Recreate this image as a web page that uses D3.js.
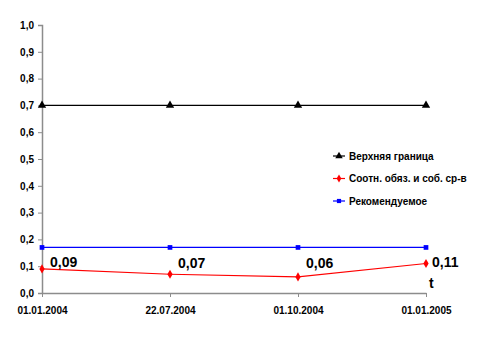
<!DOCTYPE html>
<html>
<head>
<meta charset="utf-8">
<script src="https://cdn.jsdelivr.net/npm/d3@7"></script>
<style>
  html, body { margin: 0; padding: 0; background: #fff; }
  svg text { font-family: Arial, "Liberation Sans", sans-serif; font-weight: bold; }
</style>
</head>
<body>
<svg id="chart" width="500" height="338"></svg>
<script>
// Dates on the category axis
const categories = ["01.01.2004", "22.07.2004", "01.10.2004", "01.01.2005"];
// Series values
const upperBound = [0.7, 0.7, 0.7, 0.7];
const ratio = [0.09, 0.07, 0.06, 0.11];
const recommended = [0.17, 0.17, 0.17, 0.17];
const ratioLabels = ["0,09", "0,07", "0,06", "0,11"];
// Y axis ticks
const yTicks = [0, 0.1, 0.2, 0.3, 0.4, 0.5, 0.6, 0.7, 0.8, 0.9, 1.0];
const seriesNames = ["Верхняя граница", "Соотн. обяз. и соб. ср-в", "Рекомендуемое"];

const svg = d3.select("#chart");

const x = d3.scalePoint().domain(categories).range([42, 426]);
const y = d3.scaleLinear().domain([0, 1]).range([293, 25]);
const fmt = v => d3.format(".1f")(v).replace(".", ",");

// Y axis
const yAxis = svg.append("g").attr("transform", "translate(42,0)")
  .call(d3.axisLeft(y).tickValues(yTicks).tickFormat(fmt).tickSize(4).tickPadding(4));
yAxis.select(".domain").attr("stroke", "#8c8c8c").attr("stroke-width", 1.5);
yAxis.selectAll(".tick line").attr("stroke", "#8c8c8c");
yAxis.selectAll(".tick text").attr("font-size", 10).attr("fill", "#000")
  .attr("font-family", "Arial, 'Liberation Sans', sans-serif").attr("font-weight", "bold");

// X axis
const xAxis = svg.append("g").attr("transform", "translate(0,293)")
  .call(d3.axisBottom(x).tickSize(4).tickPadding(10).tickSizeOuter(0));
xAxis.select(".domain").attr("stroke", "#8c8c8c").attr("stroke-width", 1.5);
xAxis.selectAll(".tick line").attr("stroke", "#8c8c8c");
xAxis.selectAll(".tick text").attr("font-size", 10).attr("fill", "#000")
  .attr("font-family", "Arial, 'Liberation Sans', sans-serif").attr("font-weight", "bold");

const line = d3.line().x((d, i) => x(categories[i])).y(d => y(d));

const series = [
  { name: seriesNames[0], values: upperBound, color: "#000000", symbol: d3.symbolTriangle, size: 30 },
  { name: seriesNames[1], values: ratio, color: "#ff0000", symbol: d3.symbolDiamond, size: 24 },
  { name: seriesNames[2], values: recommended, color: "#0000ff", symbol: d3.symbolSquare, size: 22 }
];

series.forEach(s => {
  svg.append("path").datum(s.values).attr("d", line)
    .attr("fill", "none").attr("stroke", s.color).attr("stroke-width", 1.2);
  svg.append("g").selectAll("path").data(s.values).join("path")
    .attr("d", d3.symbol().type(s.symbol).size(s.size))
    .attr("transform", (d, i) => `translate(${x(categories[i])},${y(d)})`)
    .attr("fill", s.color);
});

// Value labels for the ratio series, placed above-right of each point
const labelDx = [8, 8, 8, 6];
const labelDy = [-2, -6, -9, 3];
svg.append("g").selectAll("text").data(ratio).join("text")
  .attr("x", (d, i) => x(categories[i]) + labelDx[i])
  .attr("y", (d, i) => y(d) + labelDy[i])
  .attr("font-size", 14).attr("fill", "#000")
  .text((d, i) => ratioLabels[i]);

// Axis name
svg.append("text").attr("x", 429).attr("y", 288).attr("font-size", 14).text("t");

// Legend
const legend = svg.append("g").attr("transform", "translate(333,156)");
series.forEach((s, i) => {
  const g = legend.append("g").attr("transform", `translate(0,${i * 22.5})`);
  g.append("line").attr("x1", 0).attr("x2", 12).attr("y1", 0).attr("y2", 0)
    .attr("stroke", s.color).attr("stroke-width", 1.2);
  g.append("path").attr("d", d3.symbol().type(s.symbol).size(s.size * 0.8))
    .attr("transform", "translate(6,0)").attr("fill", s.color);
  g.append("text").attr("x", 16).attr("y", 3.5).attr("font-size", 10).text(s.name);
});
</script>
</body>
</html>
